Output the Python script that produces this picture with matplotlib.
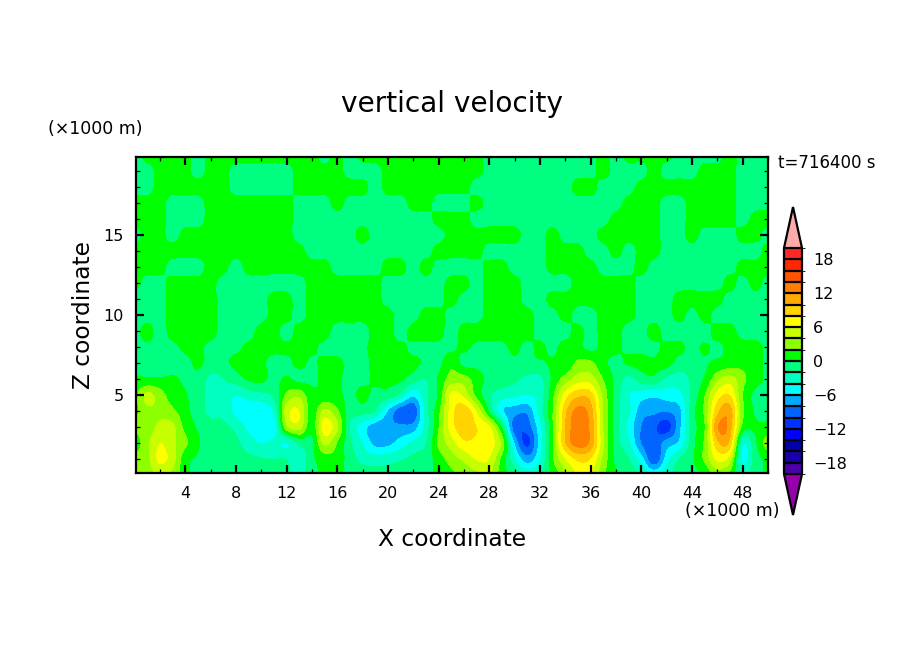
import numpy as np
import matplotlib
matplotlib.use("Agg")
import matplotlib.pyplot as plt
from matplotlib.colors import ListedColormap, BoundaryNorm
from matplotlib.ticker import MultipleLocator

W, H = 904, 654
x_km = list(range(51))
z_km = list(range(21))

w = [
[2.5,3,4.5,3.5,0.7,-0.8,-1,-1,-1,-1, -1,-1.5,-1.5,-2.5,-0.8,0.5,0.5,-0.8,-1,-1.2, -1.2,-1,-0.8,-0.5,0.5,1.5,2.5,3.5,4,1, -1,-3,-2,0.5,3.5,6,6,2.5,0.2,-1, -2,-4.5,-2.5,-1,-0.5,0.3,3,1.5,-2,-0.8, 0.5],
[2.5,3.5,6.5,5,0.8,-0.3,-1,-1,-1,-1.5, -1.8,-2,-2,-3.5,-0.5,1,1.2,-1,-2.5,-3, -2.8,-2.2,-1.5,-1,1,3,4.5,6.2,6,1.5, -3.5,-7,-4,1.8,6,8.5,8,3.5,-0.5,-1.8, -5,-9.5,-5,-1.8,-0.3,2.5,6.5,5,-4.5,-1, 0.5],
[1,3.5,6,4.5,2.5,0.3,-0.8,-1,-1.5,-3, -4,-3.5,-4,-1.5,-0.5,4.5,2,-1.5,-4,-6.5, -6.5,-5,-3.5,-2,2.5,5,7.5,7.5,7,3.5, -6,-10.5,-5,2,10,13,11.5,4.5,-1,-3.5, -8,-9.5,-7,-5.5,-0.8,2.5,9.5,9.5,-3.5,-0.3, 3],
[2.5,3,4.5,4.5,1.5,-0.2,-1.2,-1.5,-2.5,-4.5, -5.5,-5,3.5,5,0.8,7,4.5,-2,-5,-7, -7.5,-7.5,-7,-3,2,7,9.5,8,6.5,0, -9,-9,-4.5,2,10,13.2,11.5,4,-1,-4.5, -8,-9.5,-11,-6.5,-1,2,11.8,11,1.5,0.3, 0.5],
[1.5,3.5,3.5,2.5,0.7,-1,-2.5,-2.5,-4.5,-5.5, -5.5,-3.5,5,6,1,4.5,2.5,-1,-1,-2, -6,-9,-9.5,-3,1.5,7,9.5,6,0,-5.5, -7,-7.5,-3,2,9.5,12.7,11,4,-1,-3.5, -7,-7.5,-7.8,-6.5,-0.8,2.5,9.5,11,2.5,-0.2, -0.5],
[1.5,4.5,3,1,0.2,-1,-2.5,-2.5,-4,-3, -2.5,-1.5,2.5,3.5,0.5,0.5,0.5,-0.5,0.5,-0.5, -0.8,-2.5,-5.5,-2.5,0.5,6.5,5.5,1.5,-1.5,-3, -3.5,-4,-3,1.5,7,9.5,9,3.5,-0.8,-3.8, -5,-5.5,-5,-4.5,-1.5,2,7,8,2.2,-0.5, -0.5],
[0.3,0.3,0.3,0.3,-0.3,-0.5,-2.5,-2,-1,0.3, 0.5,-0.5,0.3,-0.5,-0.3,0.3,0.3,-0.5,-0.5,0.3, 0.3,0.3,-1,-2,0.3,3,3,1,-0.5,-1, -1.5,-2.5,-2.5,0.5,3,5,5,2,-0.5,-2.5, -1,-0.5,-2.5,-3,-1.5,0.3,3.5,5,2.5,1, -0.5],
[-0.5,-0.8,-2,-0.8,-0.5,0.3,-0.5,-0.5,0.5,0.5, 0.3,-0.5,-0.5,0.5,-0.3,0.5,0.3,-0.3,-0.5,0.5, 0.5,0.5,0.5,-0.3,-0.5,1.5,-0.5,-0.5,-0.8,-0.8, -0.5,-0.5,-0.3,0.3,0.5,2.5,2.5,0.5,-0.5,0.3, 0.5,0.3,0.8,-0.8,-1,-0.3,0.5,1,1.5,1, -0.5],
[-0.5,-0.5,-0.8,-0.5,0.5,0.5,-0.5,-0.5,-0.5,0.5, 0.5,0.5,0.5,0.5,0.5,-0.5,-0.5,-0.5,-0.3,0.5, 0.5,0.5,-0.5,-0.5,-0.5,-0.5,0.5,-0.5,-0.5,-0.5, 0.5,-0.5,0.5,-0.5,1,0.5,-0.5,0.5,0.5,-0.5, -0.5,-0.5,0.5,0.5,-0.5,0.3,-0.5,0.8,1,0.8, -0.5],
[-1,1,-1,1,1,1,1,-1,-1,-1, 1,1,-1,1,1,1,-1,-1,-1,1, 1,-1,1,1,1,-1,1,1,1,1, 1,1,-1,-1,-1,1,-1,1,1,-1, -1,1,-1,-1,-1,-1,1,1,-1,-1, -1],
[-1,-1,-1,1,1,1,1,-1,-1,-1, -1,1,1,-1,1,1,1,1,1,1, 1,-1,-1,1,1,-1,-1,-1,1,1, 1,1,-1,-1,1,-1,-1,1,1,1, -1,-1,-1,1,-1,1,-1,-1,-1,-1, -1],
[-1,-1,-1,1,1,1,1,-1,-1,-1, -1,1,1,-1,1,1,1,1,1,1, -1,-1,-1,-1,-1,1,-1,-1,1,1, 1,-1,-1,1,1,1,1,1,1,1, -1,-1,-1,1,1,1,1,-1,-1,-1, -1],
[1,-1,-1,1,1,1,1,-1,-1,-1, -1,-1,-1,-1,1,1,1,1,1,1, -1,-1,-1,-1,-1,1,1,-1,1,1, 1,-1,-1,-1,-1,1,1,1,1,1, -1,-1,-1,-1,-1,-1,-1,1,-1,1, -1],
[1,1,1,-1,-1,-1,1,1,-1,1, 1,1,1,1,1,1,-1,-1,-1,-1, 1,1,-1,1,-1,-1,-1,-1,1,1, -1,-1,-1,1,1,1,1,-1,-1,-1, 1,-1,-1,-1,-1,-1,-1,-1,1,1, 1],
[1,1,1,1,1,1,1,1,1,1, 1,1,1,1,-1,-1,-1,-1,-1,-1, -1,-1,-1,-1,1,1,1,1,-1,-1, -1,-1,-1,1,1,1,-1,-1,1,-1, 1,1,-1,-1,-1,-1,-1,-1,-1,-1, 1],
[-1,1,1,-1,1,1,1,1,1,1, 1,1,1,-1,-1,-1,-1,-1,1,-1, -1,-1,-1,-1,-1,1,1,1,1,1, 1,-1,-1,1,-1,-1,-1,1,1,1, 1,1,-1,-1,1,-1,-1,-1,1,1, -1],
[1,1,1,-1,-1,-1,1,1,1,1, 1,1,1,-1,-1,-1,-1,-1,-1,-1, -1,-1,-1,-1,1,1,1,-1,-1,-1, -1,-1,-1,-1,-1,-1,-1,-1,1,1, 1,1,-1,-1,1,1,1,1,-1,1, 1],
[1,1,1,-1,-1,-1,1,1,1,1, 1,1,1,-1,-1,-1,1,-1,-1,-1, -1,-1,1,1,-1,-1,-1,1,-1,-1, -1,-1,-1,-1,-1,-1,-1,-1,-1,1, 1,1,-1,-1,1,1,1,1,-1,-1, -1],
[-1,-1,1,1,1,1,1,1,-1,-1, -1,-1,-1,1,1,1,1,1,1,-1, 1,1,1,1,1,1,1,-1,-1,-1, -1,-1,-1,-1,-1,1,1,-1,-1,-1, 1,1,1,1,1,1,1,1,-1,-1, -1],
[-1,-1,1,1,1,-1,1,1,-1,-1, -1,-1,-1,1,1,1,1,-1,-1,-1, 1,1,1,1,1,1,1,1,-1,-1, -1,-1,-1,-1,-1,-1,-1,1,-1,-1, -1,1,-1,-1,-1,1,1,1,-1,-1, -1],
[-1,1,1,1,1,-1,1,1,1,1, 1,1,1,1,1,-1,1,-1,1,1, 1,1,1,1,1,1,1,1,-1,-1, -1,-1,-1,-1,-1,-1,-1,1,-1,1, 1,1,1,-1,-1,-1,-1,1,-1,-1, -1],
]

levels = list(range(-20, 21, 2))
band_colors = ["#4B00AA", "#1A00AA", "#0000AA", "#0000FF", "#0032FF", "#0064FF", "#00AAFF",
               "#00FFFF", "#00FFC0", "#00FF80", "#00FF00", "#8CFF00", "#C8FF00", "#FFFF00",
               "#FFD400", "#FFAA00", "#FF7F00", "#FF5500", "#FF2800", "#FF2828"]
under_color = "#9600AA"
over_color = "#FFAAAA"
x_ticks = [4, 8, 12, 16, 20, 24, 28, 32, 36, 40, 44, 48]
z_ticks = [5, 10, 15]
cbar_ticks = [-18, -12, -6, 0, 6, 12, 18]

plt.rcParams["font.family"] = "DejaVu Sans"
fig = plt.figure(figsize=(W / 100, H / 100), dpi=100, facecolor="white")


def box(l, t, r, b):
    return [l / W, 1 - b / H, (r - l) / W, (b - t) / H]


ax = fig.add_axes(box(136, 157, 768, 473))
cmap = ListedColormap(band_colors)
cmap.set_under(under_color)
cmap.set_over(over_color)
norm = BoundaryNorm(levels, cmap.N)
im = ax.imshow(np.array(w, dtype=float), origin="lower", aspect="auto",
               extent=(x_km[0] - 0.5, x_km[-1] + 0.5, z_km[0] - 0.5, z_km[-1] + 0.5),
               cmap=cmap, norm=norm, interpolation="catrom", interpolation_stage="data")
ax.set_xlim(0.12, 50)
ax.set_ylim(0.125, 19.875)
ax.set_xticks(x_ticks)
ax.set_yticks(z_ticks)
ax.xaxis.set_minor_locator(MultipleLocator(2))
ax.yaxis.set_minor_locator(MultipleLocator(1))
ax.tick_params(which="major", direction="in", length=6, width=1.6, top=True, right=True,
               labelsize=11.5, pad=9)
ax.tick_params(which="minor", direction="in", length=3, width=0.9, top=True, right=True)
for s in ax.spines.values():
    s.set_linewidth(1.6)


def label(px, py, s, size, **kw):
    fig.text(px / W, 1 - py / H, s, fontsize=size, ha="center", va="center", color="black", **kw)


label(452, 104, "vertical velocity", 20.2)
label(95.5, 129, "(×1000 m)", 12.5)
label(732.5, 511, "(×1000 m)", 12.5)
label(827, 163, "t=716400 s", 12)
label(452, 539, "X coordinate", 16.8)
label(83, 315, "Z coordinate", 16.8, rotation=90)

cax = fig.add_axes(box(784, 207, 802, 515))
cb = fig.colorbar(im, cax=cax, extend="both", extendfrac=41 / 226, drawedges=True, ticks=cbar_ticks)
cb.ax.tick_params(length=0, labelsize=11.5, pad=8)
cb.outline.set_linewidth(1.6)
cb.dividers.set_linewidth(1.6)
cb.dividers.set_color("black")

fig.savefig("out.png", dpi=100, facecolor="white")
